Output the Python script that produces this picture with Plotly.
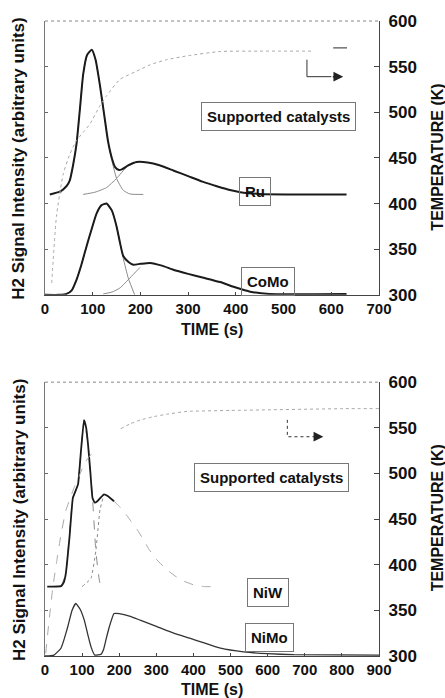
import plotly.graph_objects as go
from plotly.subplots import make_subplots

# ---------------- Data (top panel: Ru / CoMo) ----------------
ru_t = [10, 31, 45, 52, 59, 66, 73, 80, 88, 98, 106, 115, 124, 132, 140, 147, 154, 161, 175, 192, 215, 240, 270, 300, 330, 360, 390, 409, 450, 520, 632]
ru_sig = [2.20, 2.26, 2.38, 2.51, 2.85, 3.30, 4.05, 4.83, 5.25, 5.37, 5.15, 4.60, 3.95, 3.37, 3.00, 2.80, 2.74, 2.75, 2.84, 2.91, 2.90, 2.84, 2.72, 2.60, 2.48, 2.38, 2.29, 2.25, 2.21, 2.20, 2.20]
ru_p1_t = [31, 45, 52, 59, 66, 73, 80, 88, 98, 106, 115, 124, 132, 140, 150, 164, 178, 206]
ru_p1_sig = [2.22, 2.36, 2.51, 2.85, 3.30, 4.05, 4.83, 5.25, 5.37, 5.15, 4.60, 3.95, 3.37, 2.95, 2.55, 2.29, 2.21, 2.20]
ru_p2_t = [80, 105, 129, 150, 171, 192]
ru_p2_sig = [2.20, 2.25, 2.35, 2.55, 2.80, 2.91]

como_t = [0, 30, 45, 56, 66, 76, 87, 98, 108, 118, 129, 140, 150, 157, 164, 175, 185, 200, 220, 245, 269, 300, 330, 367, 400, 430, 470, 632]
como_sig = [0.0, 0.0, 0.02, 0.10, 0.33, 0.65, 1.06, 1.45, 1.78, 1.96, 2.00, 1.85, 1.50, 1.15, 0.85, 0.72, 0.66, 0.68, 0.70, 0.64, 0.55, 0.46, 0.38, 0.28, 0.16, 0.07, 0.02, 0.02]
como_p1_t = [45, 56, 66, 76, 87, 98, 108, 118, 129, 140, 150, 157, 164, 175, 188]
como_p1_sig = [0.02, 0.10, 0.33, 0.65, 1.06, 1.45, 1.78, 1.96, 2.00, 1.85, 1.50, 1.15, 0.80, 0.35, 0.0]
como_p2_t = [122, 140, 157, 178, 199]
como_p2_sig = [0.02, 0.06, 0.15, 0.37, 0.60]

temp1_t = [14, 24, 38, 52, 66, 80, 94, 115, 129, 157, 192, 220, 255, 300, 367, 450, 562]
temp1_T = [313, 386, 432, 454, 469, 478, 487, 507, 518, 536, 545, 552, 557.6, 562, 566.6, 567, 567]
temp1_end_t = [604, 633]
temp1_end_T = [570.6, 570.6]

arrow1_t = [549, 549, 600]
arrow1_T = [557.6, 539, 539]
arrow1_head_t = [625]

# ---------------- Data (bottom panel: NiW / NiMo) ----------------
niw_t = [6, 20, 43, 50, 56, 66, 75, 89, 97, 105, 111, 116, 122, 128, 134, 141, 150, 159, 170, 186]
niw_sig = [1.52, 1.52, 1.53, 1.60, 1.80, 2.60, 3.46, 3.76, 4.50, 5.17, 5.00, 4.63, 4.05, 3.46, 3.36, 3.39, 3.47, 3.54, 3.50, 3.39]
niw_tail_t = [186, 200, 215, 232, 250, 265, 280, 300, 330, 365, 400, 430, 460]
niw_tail_sig = [3.39, 3.28, 3.14, 2.95, 2.75, 2.55, 2.34, 2.12, 1.88, 1.67, 1.56, 1.52, 1.52]
niw_p1_t = [43, 56, 75, 89, 97, 105, 116, 128, 137, 148, 159]
niw_p1_sig = [1.52, 1.80, 3.46, 3.76, 4.50, 5.17, 4.63, 3.46, 2.30, 1.60, 1.52]
niw_p2_t = [100, 124, 137, 148, 159]
niw_p2_sig = [1.52, 1.70, 2.30, 3.20, 3.54]

nimo_t = [0, 24, 43, 52, 61, 73, 83, 95, 106, 115, 124, 134, 151, 158, 165, 173, 186, 200, 230, 258, 300, 347, 390, 420, 473, 535, 600, 670, 900]
nimo_sig = [0.0, 0.02, 0.17, 0.38, 0.63, 1.00, 1.15, 1.02, 0.78, 0.48, 0.20, 0.02, 0.04, 0.15, 0.38, 0.63, 0.93, 0.93, 0.87, 0.78, 0.65, 0.50, 0.39, 0.31, 0.17, 0.09, 0.05, 0.03, 0.02]

temp2_t = [2, 10, 21, 32, 43, 56, 67, 78, 92, 105, 118, 132]
temp2_T = [303, 335, 375, 405, 433, 459, 472, 484, 497, 510, 518, 524]
temp2_hi_t = [204, 230, 258, 290, 330, 383, 500, 810, 900]
temp2_hi_T = [549, 554.5, 558.7, 562, 565, 568, 569, 571, 571]

arrow2_t = [653, 653, 725]
arrow2_T = [558.7, 540.2, 540.2]
arrow2_head_t = [750]

x_ticks_top = [0, 100, 200, 300, 400, 500, 600, 700]
x_ticks_bot = [0, 100, 200, 300, 400, 500, 600, 700, 800, 900]
temp_ticks = [300, 350, 400, 450, 500, 550, 600]

# ---------------- Figure ----------------
FONT = "Liberation Sans"
DARK = "#1b1b1b"
GRAY = "#8a8a8a"
LIGHT = "#a8a8a8"

fig = make_subplots(rows=2, cols=1, vertical_spacing=0.1375,
                    specs=[[{"secondary_y": True}], [{"secondary_y": True}]])


def line(x, y, row, sec, color, width, dash="solid", smooth=0.5):
    fig.add_trace(go.Scatter(x=x, y=y, mode="lines", showlegend=False,
                             line=dict(color=color, width=width, dash=dash, shape="spline", smoothing=smooth),
                             hoverinfo="skip"),
                  row=row, col=1, secondary_y=sec)


# top panel
line(temp1_t, temp1_T, 1, True, LIGHT, 1, "dot")
line(temp1_end_t, temp1_end_T, 1, True, "#555", 1.2)
line(ru_p1_t, ru_p1_sig, 1, False, GRAY, 1)
line(ru_p2_t, ru_p2_sig, 1, False, GRAY, 1)
line(como_p1_t, como_p1_sig, 1, False, GRAY, 1)
line(como_p2_t, como_p2_sig, 1, False, GRAY, 1)
line(ru_t, ru_sig, 1, False, DARK, 2)
line(como_t, como_sig, 1, False, DARK, 2)
fig.add_trace(go.Scatter(x=arrow1_t, y=arrow1_T, mode="lines", showlegend=False,
                         line=dict(color="#333", width=1), hoverinfo="skip"),
              row=1, col=1, secondary_y=True)

# bottom panel
line(temp2_t, temp2_T, 2, True, LIGHT, 1, "dash", 0.3)
line(temp2_hi_t, temp2_hi_T, 2, True, LIGHT, 1, "dot", 0.3)
line(niw_p1_t, niw_p1_sig, 2, False, GRAY, 1, "dash", 0.3)
line(niw_p2_t, niw_p2_sig, 2, False, GRAY, 1, "dot", 0.3)
line(niw_t, niw_sig, 2, False, DARK, 1.8, "solid", 0.3)
line(niw_tail_t, niw_tail_sig, 2, False, LIGHT, 1, "dash", 0.3)
line(nimo_t, nimo_sig, 2, False, "#333", 1.3, "solid", 0.4)
fig.add_trace(go.Scatter(x=arrow2_t, y=arrow2_T, mode="lines", showlegend=False,
                         line=dict(color="#333", width=1, dash="dot"), hoverinfo="skip"),
              row=2, col=1, secondary_y=True)

bold = dict(family=FONT, size=15, color="#111", weight="bold")

# axes
fig.update_xaxes(row=1, col=1, domain=[0, 1], range=[0, 700], tickvals=x_ticks_top,
                 showline=True, linecolor="#444", linewidth=1.2, ticks="inside", ticklen=3,
                 tickcolor="#444", showgrid=False, zeroline=False, tickfont=bold)
fig.update_xaxes(row=2, col=1, domain=[0, 1], range=[0, 900], tickvals=x_ticks_bot,
                 showline=True, linecolor="#444", linewidth=1.2, ticks="inside", ticklen=3,
                 tickcolor="#444", showgrid=False, zeroline=False, tickfont=bold)
for r in (1, 2):
    fig.update_yaxes(row=r, col=1, secondary_y=False, range=[0, 6], tickvals=[1, 2, 3, 4, 5],
                     showticklabels=False, ticks="inside", ticklen=3, tickcolor="#666",
                     showline=True, linecolor="#777", linewidth=1, showgrid=False, zeroline=False)
    fig.update_yaxes(row=r, col=1, secondary_y=True, range=[300, 600], tickvals=temp_ticks,
                     ticks="inside", ticklen=5, tickcolor="#444", ticklabelstandoff=5,
                     showline=True, linecolor="#444", linewidth=1.2, showgrid=False, zeroline=False,
                     tickfont=dict(family=FONT, size=17, color="#111", weight="bold"))

# dotted top frame
for xr, yr in (("x domain", "y domain"), ("x2 domain", "y3 domain")):
    fig.add_shape(type="line", xref=xr, yref=yr, x0=0, x1=1, y0=1, y1=1,
                  line=dict(color="#888", width=1, dash="dot"))

# arrow heads
fig.add_annotation(x=arrow1_head_t[0], y=arrow1_T[2], ax=arrow1_t[2], ay=arrow1_T[2],
                   xref="x", yref="y2", axref="x", ayref="y2", text="", showarrow=True,
                   arrowhead=2, arrowsize=1.3, arrowwidth=1.5, arrowcolor="#222")
fig.add_annotation(x=arrow2_head_t[0], y=arrow2_T[2], ax=arrow2_t[2], ay=arrow2_T[2],
                   xref="x2", yref="y4", axref="x2", ayref="y4", text="", showarrow=True,
                   arrowhead=2, arrowsize=1.3, arrowwidth=1.5, arrowcolor="#222")

# label boxes
boxes = [
    ("Supported catalysts", 490, 3.9, "x", "y"),
    ("Ru", 440, 2.26, "x", "y"),
    ("CoMo", 467, 0.30, "x", "y"),
    ("Supported catalysts", 610, 3.91, "x2", "y3"),
    ("NiW", 600, 1.39, "x2", "y3"),
    ("NiMo", 605, 0.40, "x2", "y3"),
]
for txt, bx, by, xr, yr in boxes:
    fig.add_annotation(x=bx, y=by, xref=xr, yref=yr, text=txt, showarrow=False,
                       font=dict(family=FONT, size=15, color="#111", weight="bold"),
                       bordercolor="#777", borderwidth=1, borderpad=5, bgcolor="rgba(255,255,255,0)")

# axis titles
title_font = dict(family=FONT, size=16, color="#111", weight="bold")
for ty in (0.514, -0.053):
    fig.add_annotation(x=0.50, y=ty, xref="paper", yref="paper", text="TIME (s)",
                       showarrow=False, font=title_font, xanchor="center", yanchor="middle")
for ty in (0.783, 0.214):
    fig.add_annotation(x=-0.078, y=ty, xref="paper", yref="paper",
                       text="H2 Signal Intensity (arbitrary units)", textangle=-90,
                       showarrow=False, font=dict(family=FONT, size=17, color="#111", weight="bold"),
                       xanchor="center", yanchor="middle")
for ty in (0.785, 0.217):
    fig.add_annotation(x=1.174, y=ty, xref="paper", yref="paper",
                       text="TEMPERATURE (K)", textangle=-90,
                       showarrow=False, font=title_font, xanchor="center", yanchor="middle")

fig.update_layout(width=445, height=698, margin=dict(l=45, r=66, t=16, b=42),
                  paper_bgcolor="white", plot_bgcolor="white", showlegend=False)

fig.write_html("out.html")
